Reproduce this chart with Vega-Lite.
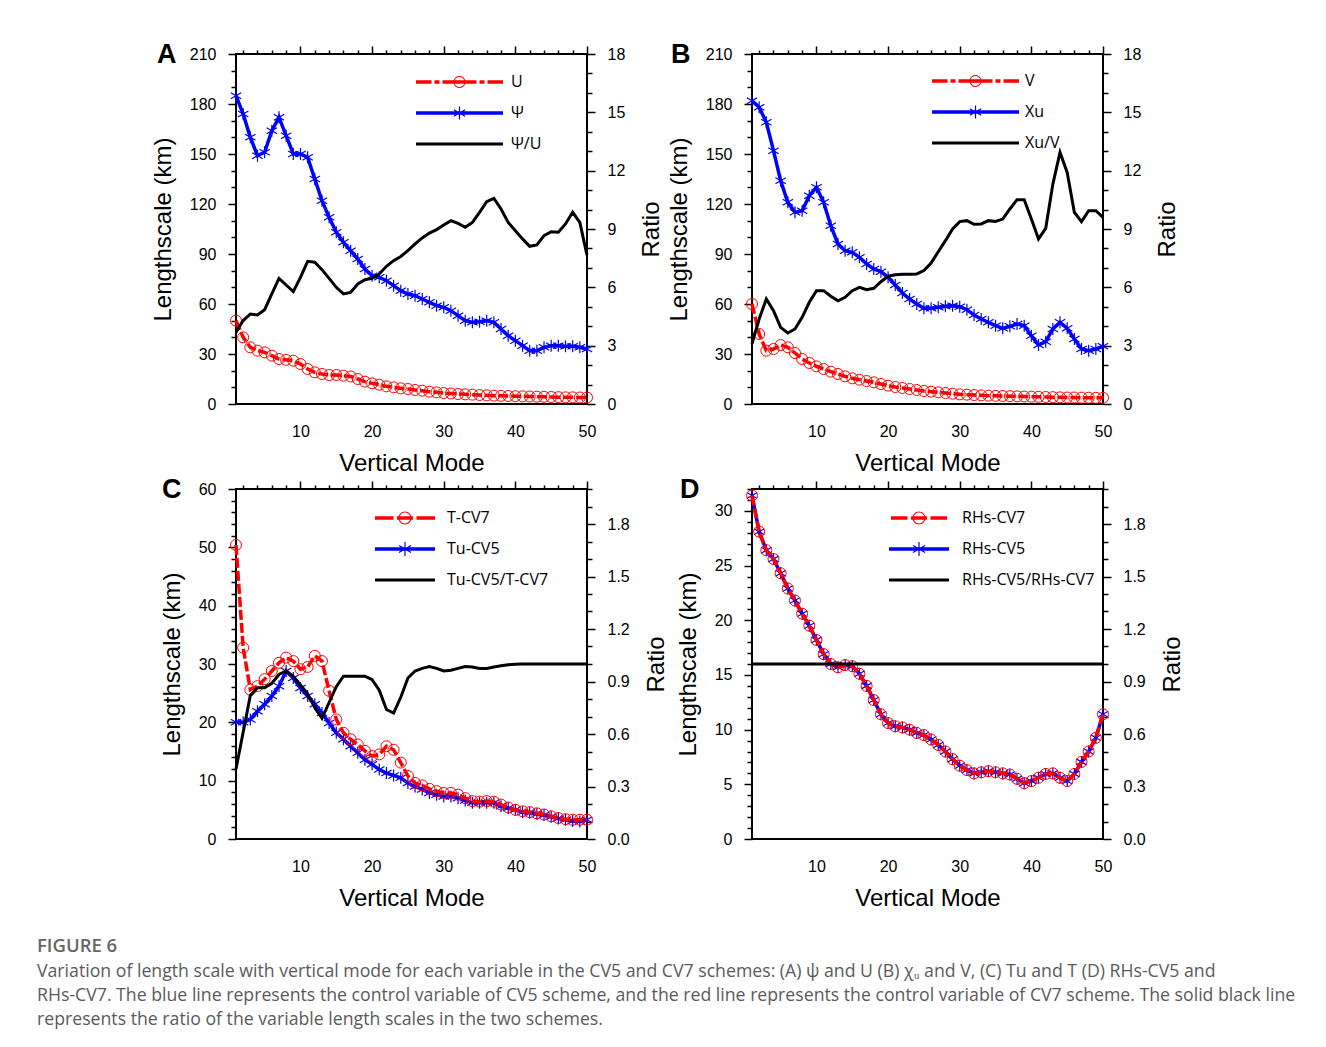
{
  "$schema": "https://vega.github.io/schema/vega-lite/v6.json",
  "background": "white",
  "padding": {"left": 37, "top": 40, "right": 5, "bottom": 5},
  "datasets": {
    "A": [
      {"m":1,"a":50,"b":185,"r":3.69},{"m":2,"a":40,"b":174,"r":4.29},{"m":3,"a":34,"b":160,"r":4.63},{"m":4,"a":32,"b":149,"r":4.58},{"m":5,"a":31,"b":151,"r":4.85},
      {"m":6,"a":29,"b":164,"r":5.66},{"m":7,"a":27,"b":172,"r":6.46},{"m":8,"a":26.5,"b":161,"r":6.12},{"m":9,"a":26,"b":150,"r":5.78},{"m":10,"a":24,"b":150,"r":6.51},
      {"m":11,"a":21,"b":148,"r":7.34},{"m":12,"a":19,"b":135,"r":7.29},{"m":13,"a":18,"b":122,"r":6.91},{"m":14,"a":17.4,"b":112,"r":6.46},{"m":15,"a":17.4,"b":103,"r":6.0},
      {"m":16,"a":17,"b":97,"r":5.66},{"m":17,"a":16.5,"b":92,"r":5.74},{"m":18,"a":15,"b":87,"r":6.17},{"m":19,"a":13.4,"b":81,"r":6.39},{"m":20,"a":12.4,"b":77,"r":6.46},
      {"m":21,"a":11.6,"b":76,"r":6.69},{"m":22,"a":10.6,"b":74,"r":7.08},{"m":23,"a":10,"b":71,"r":7.37},{"m":24,"a":9.4,"b":68,"r":7.59},{"m":25,"a":9,"b":66,"r":7.89},
      {"m":26,"a":8.4,"b":65,"r":8.23},{"m":27,"a":8,"b":63,"r":8.54},{"m":28,"a":7.4,"b":61,"r":8.79},{"m":29,"a":7,"b":59,"r":8.97},{"m":30,"a":6.6,"b":58,"r":9.21},
      {"m":31,"a":6.3,"b":56,"r":9.43},{"m":32,"a":6,"b":53,"r":9.29},{"m":33,"a":5.8,"b":50,"r":9.09},{"m":34,"a":5.6,"b":49,"r":9.34},{"m":35,"a":5.4,"b":49.4,"r":9.86},
      {"m":36,"a":5.2,"b":50,"r":10.41},{"m":37,"a":5,"b":49,"r":10.58},{"m":38,"a":4.9,"b":45,"r":10.03},{"m":39,"a":4.8,"b":41,"r":9.34},{"m":40,"a":4.7,"b":38,"r":8.91},
      {"m":41,"a":4.6,"b":35,"r":8.49},{"m":42,"a":4.5,"b":32,"r":8.11},{"m":43,"a":4.4,"b":32,"r":8.18},{"m":44,"a":4.3,"b":34,"r":8.66},{"m":45,"a":4.2,"b":35,"r":8.86},
      {"m":46,"a":4.1,"b":35,"r":8.83},{"m":47,"a":4.0,"b":34.6,"r":9.26},{"m":48,"a":4.0,"b":34.6,"r":9.86},{"m":49,"a":3.9,"b":34,"r":9.34},{"m":50,"a":3.9,"b":33,"r":7.66}
    ],
    "B": [
      {"m":1,"a":60,"b":182,"r":3.09},{"m":2,"a":42,"b":178,"r":4.37},{"m":3,"a":32,"b":169,"r":5.4},{"m":4,"a":33,"b":152,"r":4.8},{"m":5,"a":35.4,"b":134,"r":3.94},
      {"m":6,"a":34,"b":121,"r":3.65},{"m":7,"a":30.6,"b":115,"r":3.86},{"m":8,"a":27,"b":116,"r":4.46},{"m":9,"a":24.6,"b":125,"r":5.23},{"m":10,"a":22.6,"b":130,"r":5.83},
      {"m":11,"a":21,"b":121,"r":5.83},{"m":12,"a":19.4,"b":107,"r":5.54},{"m":13,"a":18,"b":96,"r":5.31},{"m":14,"a":16.6,"b":92,"r":5.49},{"m":15,"a":15.4,"b":91,"r":5.83},
      {"m":16,"a":14.6,"b":88,"r":6.0},{"m":17,"a":13.8,"b":84,"r":5.88},{"m":18,"a":13,"b":81,"r":5.95},{"m":19,"a":12,"b":79.4,"r":6.29},{"m":20,"a":11,"b":76,"r":6.57},
      {"m":21,"a":10.2,"b":71.4,"r":6.65},{"m":22,"a":9.6,"b":66.6,"r":6.67},{"m":23,"a":9,"b":63,"r":6.67},{"m":24,"a":8.4,"b":60,"r":6.69},{"m":25,"a":7.8,"b":57.4,"r":6.86},
      {"m":26,"a":7.4,"b":57.4,"r":7.25},{"m":27,"a":7,"b":58,"r":7.83},{"m":28,"a":6.6,"b":58.6,"r":8.4},{"m":29,"a":6.2,"b":59,"r":9.0},{"m":30,"a":5.8,"b":58.4,"r":9.38},
      {"m":31,"a":5.6,"b":56.6,"r":9.43},{"m":32,"a":5.4,"b":53.4,"r":9.24},{"m":33,"a":5.2,"b":51,"r":9.26},{"m":34,"a":5.0,"b":49,"r":9.43},{"m":35,"a":4.9,"b":47,"r":9.39},
      {"m":36,"a":4.8,"b":45.4,"r":9.51},{"m":37,"a":4.7,"b":46.6,"r":10.03},{"m":38,"a":4.6,"b":48,"r":10.51},{"m":39,"a":4.5,"b":47,"r":10.51},{"m":40,"a":4.4,"b":41,"r":9.51},
      {"m":41,"a":4.3,"b":35.4,"r":8.49},{"m":42,"a":4.2,"b":37.4,"r":9.03},{"m":43,"a":4.1,"b":45,"r":11.31},{"m":44,"a":4.0,"b":49,"r":12.94},{"m":45,"a":3.9,"b":45.4,"r":11.91},
      {"m":46,"a":3.9,"b":39,"r":9.86},{"m":47,"a":3.8,"b":33,"r":9.38},{"m":48,"a":3.8,"b":32,"r":9.94},{"m":49,"a":3.7,"b":33,"r":9.94},{"m":50,"a":3.7,"b":34.6,"r":9.6}
    ],
    "C": [
      {"m":1,"a":50.4,"b":20.0,"r":0.40},{"m":2,"a":32.8,"b":20.0,"r":0.61},{"m":3,"a":25.6,"b":20.5,"r":0.82},{"m":4,"a":26.2,"b":21.9,"r":0.865},{"m":5,"a":27.4,"b":23.1,"r":0.865},
      {"m":6,"a":28.8,"b":24.5,"r":0.89},{"m":7,"a":30.2,"b":26.2,"r":0.94},{"m":8,"a":31.1,"b":28.8,"r":0.96},{"m":9,"a":30.5,"b":27.6,"r":0.93},{"m":10,"a":29.1,"b":25.9,"r":0.88},
      {"m":11,"a":29.5,"b":24.5,"r":0.83},{"m":12,"a":31.4,"b":23.1,"r":0.75},{"m":13,"a":30.5,"b":21.6,"r":0.69},{"m":14,"a":25.4,"b":19.9,"r":0.78},{"m":15,"a":20.5,"b":18.2,"r":0.87},
      {"m":16,"a":18.2,"b":17.1,"r":0.93},{"m":17,"a":17.1,"b":15.9,"r":0.93},{"m":18,"a":16.2,"b":14.8,"r":0.93},{"m":19,"a":15.1,"b":13.6,"r":0.93},{"m":20,"a":14.2,"b":12.8,"r":0.91},
      {"m":21,"a":14.5,"b":11.9,"r":0.85},{"m":22,"a":15.9,"b":11.3,"r":0.74},{"m":23,"a":15.3,"b":10.9,"r":0.72},{"m":24,"a":13.1,"b":10.5,"r":0.81},{"m":25,"a":10.8,"b":9.6,"r":0.92},
      {"m":26,"a":9.6,"b":9.0,"r":0.96},{"m":27,"a":9.2,"b":8.5,"r":0.975},{"m":28,"a":8.6,"b":7.9,"r":0.985},{"m":29,"a":8.2,"b":7.6,"r":0.975},{"m":30,"a":7.9,"b":7.3,"r":0.96},
      {"m":31,"a":7.9,"b":7.3,"r":0.964},{"m":32,"a":7.6,"b":7.0,"r":0.975},{"m":33,"a":7.0,"b":6.6,"r":0.985},{"m":34,"a":6.5,"b":6.2,"r":0.983},{"m":35,"a":6.4,"b":6.2,"r":0.975},
      {"m":36,"a":6.5,"b":6.2,"r":0.975},{"m":37,"a":6.4,"b":6.2,"r":0.983},{"m":38,"a":5.9,"b":5.6,"r":0.99},{"m":39,"a":5.4,"b":5.3,"r":0.996},{"m":40,"a":5.0,"b":5.0,"r":0.998},
      {"m":41,"a":4.75,"b":4.6,"r":1.0},{"m":42,"a":4.6,"b":4.5,"r":1.0},{"m":43,"a":4.4,"b":4.3,"r":1.0},{"m":44,"a":4.2,"b":4.1,"r":1.0},{"m":45,"a":3.9,"b":3.8,"r":1.0},
      {"m":46,"a":3.6,"b":3.5,"r":1.0},{"m":47,"a":3.4,"b":3.3,"r":1.0},{"m":48,"a":3.3,"b":3.1,"r":1.0},{"m":49,"a":3.3,"b":3.0,"r":1.0},{"m":50,"a":3.3,"b":3.3,"r":1.0}
    ],
    "D": [
      {"m":1,"a":31.4,"b":31.4,"r":1},{"m":2,"a":28.1,"b":28.1,"r":1},{"m":3,"a":26.4,"b":26.4,"r":1},{"m":4,"a":25.6,"b":25.6,"r":1},{"m":5,"a":24.3,"b":24.3,"r":1},
      {"m":6,"a":22.9,"b":22.9,"r":1},{"m":7,"a":21.8,"b":21.8,"r":1},{"m":8,"a":20.6,"b":20.6,"r":1},{"m":9,"a":19.5,"b":19.5,"r":1},{"m":10,"a":18.2,"b":18.2,"r":1},
      {"m":11,"a":16.9,"b":16.9,"r":1},{"m":12,"a":16.0,"b":16.0,"r":1},{"m":13,"a":15.7,"b":15.7,"r":1},{"m":14,"a":15.9,"b":15.9,"r":1},{"m":15,"a":15.8,"b":15.8,"r":1},
      {"m":16,"a":15.1,"b":15.1,"r":1},{"m":17,"a":14.0,"b":14.0,"r":1},{"m":18,"a":12.7,"b":12.7,"r":1},{"m":19,"a":11.4,"b":11.4,"r":1},{"m":20,"a":10.6,"b":10.6,"r":1},
      {"m":21,"a":10.3,"b":10.3,"r":1},{"m":22,"a":10.2,"b":10.2,"r":1},{"m":23,"a":10.0,"b":10.0,"r":1},{"m":24,"a":9.7,"b":9.7,"r":1},{"m":25,"a":9.5,"b":9.5,"r":1},
      {"m":26,"a":9.1,"b":9.1,"r":1},{"m":27,"a":8.6,"b":8.6,"r":1},{"m":28,"a":8.0,"b":8.0,"r":1},{"m":29,"a":7.3,"b":7.3,"r":1},{"m":30,"a":6.7,"b":6.7,"r":1},
      {"m":31,"a":6.3,"b":6.3,"r":1},{"m":32,"a":6.0,"b":6.0,"r":1},{"m":33,"a":6.1,"b":6.1,"r":1},{"m":34,"a":6.2,"b":6.2,"r":1},{"m":35,"a":6.1,"b":6.1,"r":1},
      {"m":36,"a":6.0,"b":6.0,"r":1},{"m":37,"a":5.9,"b":5.9,"r":1},{"m":38,"a":5.5,"b":5.5,"r":1},{"m":39,"a":5.1,"b":5.1,"r":1},{"m":40,"a":5.3,"b":5.3,"r":1},
      {"m":41,"a":5.6,"b":5.6,"r":1},{"m":42,"a":5.95,"b":5.95,"r":1},{"m":43,"a":6.0,"b":6.0,"r":1},{"m":44,"a":5.6,"b":5.6,"r":1},{"m":45,"a":5.3,"b":5.3,"r":1},
      {"m":46,"a":5.95,"b":5.95,"r":1},{"m":47,"a":7.05,"b":7.05,"r":1},{"m":48,"a":8.0,"b":8.0,"r":1},{"m":49,"a":9.25,"b":9.25,"r":1},{"m":50,"a":11.4,"b":11.4,"r":1}
    ]
  },
  "columns": 2,
  "spacing": {"row": 85, "column": 165},
  "bounds": "flush",
  "resolve": {"scale": {"color": "independent", "shape": "independent"}, "legend": {"color": "independent", "shape": "independent"}},
  "title": {
    "text": "FIGURE 6",
    "subtitle": [
      "Variation of length scale with vertical mode for each variable in the CV5 and CV7 schemes: (A) ψ and U (B) χᵤ and V, (C) Tu and T (D) RHs-CV5 and",
      "RHs-CV7. The blue line represents the control variable of CV5 scheme, and the red line represents the control variable of CV7 scheme. The solid black line",
      "represents the ratio of the variable length scales in the two schemes."
    ],
    "orient": "bottom", "anchor": "start", "frame": "group", "dx": -199, "offset": 26,
    "font": "Open Sans", "fontSize": 18.5, "fontWeight": 600, "color": "#666666",
    "subtitleFont": "Open Sans", "subtitleFontSize": 17.7, "subtitleColor": "#5a5a5a", "subtitleLineHeight": 24, "subtitlePadding": 7
  },
  "concat": [
    {
      "width": 351, "height": 350,
      "title": {"text": "A", "anchor": "start", "frame": "group", "dx": -79, "dy": 45, "offset": 0, "baseline": "alphabetic", "font": "Liberation Sans", "fontSize": 27, "fontWeight": "bold", "color": "black"},
      "data": {"name": "A"},
      "resolve": {"scale": {"y": "independent"}, "axis": {"x": "independent", "y": "independent"}},
      "layer": [
        {"mark": {"type": "line", "color": "#0000ff", "strokeWidth": 3.5},
         "encoding": {
           "x": {"field": "m", "type": "quantitative", "scale": {"domain": [1, 50], "nice": false, "zero": false}, "axis": {"orient": "top", "values": [2,4,6,8,12,14,16,18,22,24,26,28,32,34,36,38,42,44,46,48], "labels": false, "tickSize": 4, "title": null}},
           "y": {"field": "b", "type": "quantitative", "scale": {"domain": [0, 210], "nice": false, "zero": false}, "axis": {"orient": "right", "values": [11.6667,23.3333,46.6667,58.3333,81.6667,93.3333,116.6667,128.3333,151.6667,163.3333,186.6667,198.3333], "labels": false, "tickSize": 5, "title": null}}}},
        {"mark": {"type": "point", "shape": "M0,-1L0,1M-0.866,-0.5L0.866,0.5M-0.866,0.5L0.866,-0.5", "filled": false, "color": "#0000ff", "size": 144, "strokeWidth": 1.2, "opacity": 1},
         "encoding": {
           "x": {"field": "m", "type": "quantitative", "scale": {"domain": [1, 50], "nice": false, "zero": false}, "axis": {"orient": "top", "values": [10,20,30,40,50], "labels": false, "tickSize": 8, "title": null}},
           "y": {"field": "b", "type": "quantitative", "scale": {"domain": [0, 210], "nice": false, "zero": false}, "axis": {"orient": "left", "values": [10,20,40,50,70,80,100,110,130,140,160,170,190,200], "labels": false, "tickSize": 5, "title": null}}}},
        {"mark": {"type": "line", "color": "#ff0000", "strokeWidth": 3.5, "strokeDash": [10, 3]},
         "encoding": {
           "x": {"field": "m", "type": "quantitative", "scale": {"domain": [1, 50], "nice": false, "zero": false}, "axis": {"orient": "bottom", "values": [10,20,30,40,50], "ticks": false, "labelPadding": 19, "title": "Vertical Mode", "titlePadding": 12}},
           "y": {"field": "a", "type": "quantitative", "scale": {"domain": [0, 210], "nice": false, "zero": false}, "axis": {"orient": "left", "values": [0,30,60,90,120,150,180,210], "tickSize": 8, "labelPadding": 12, "title": "Lengthscale (km)", "titlePadding": 14}}}},
        {"mark": {"type": "point", "shape": "circle", "filled": false, "color": "#ff0000", "size": 121, "strokeWidth": 1, "opacity": 1},
         "encoding": {
           "x": {"field": "m", "type": "quantitative", "scale": {"domain": [1, 50], "nice": false, "zero": false}, "axis": null},
           "y": {"field": "a", "type": "quantitative", "scale": {"domain": [0, 210], "nice": false, "zero": false}, "axis": null}}},
        {"mark": {"type": "line", "color": "#000000", "strokeWidth": 3},
         "encoding": {
           "x": {"field": "m", "type": "quantitative", "scale": {"domain": [1, 50], "nice": false, "zero": false}, "axis": null},
           "y": {"field": "r", "type": "quantitative", "scale": {"domain": [0, 18], "nice": false, "zero": false}, "axis": {"orient": "right", "values": [0,3,6,9,12,15,18], "tickSize": 8, "labelPadding": 12, "title": "Ratio", "titleAngle": 270, "titlePadding": 39}}}},
        {"data": {"values": []},
         "mark": {"type": "point", "filled": true, "opacity": 1, "strokeWidth": 0},
         "encoding": {
           "color": {"field": "s", "type": "nominal", "scale": {"domain": ["U", "Ψ", "Ψ/U"], "range": ["#ff0000", "#0000ff", "#000000"]},
             "legend": {"orient": "none", "legendX": 172, "legendY": 20, "title": null, "symbolSize": 4, "symbolOffset": 43.5, "labelOffset": 43.5, "rowPadding": 15, "padding": 0, "symbolStrokeWidth": 0, "symbolOpacity": 1, "labelFont": "Open Sans", "labelFontSize": 16, "labelColor": "black", "labelLimit": 300}},
           "shape": {"field": "s", "type": "nominal", "scale": {"domain": ["U", "Ψ", "Ψ/U"], "range": [
             "M-43.5,-1.75H-28V1.75H-43.5Z M-25,-1.75H-20V1.75H-25Z M-17,-1.75H17V1.75H-17Z M20,-1.75H25V1.75H20Z M28,-1.75H43.5V1.75H28Z M6,0A6,6,0,1,1,-6,0A6,6,0,1,1,6,0Z M5,0A5,5,0,1,0,-5,0A5,5,0,1,0,5,0Z",
             "M-43.5,-1.75H43.5V1.75H-43.5Z M-0.6,-6.5H0.6V6.5H-0.6Z M-5.33,3.77L-5.93,2.73L5.33,-3.77L5.93,-2.73Z M-5.93,-2.73L-5.33,-3.77L5.93,2.73L5.33,3.77Z",
             "M-43.5,-1.6H43.5V1.6H-43.5Z"]},
             "legend": {"orient": "none", "legendX": 172, "legendY": 20, "title": null, "symbolSize": 4, "symbolOffset": 43.5, "labelOffset": 43.5, "rowPadding": 15, "padding": 0, "symbolStrokeWidth": 0, "symbolOpacity": 1, "labelFont": "Open Sans", "labelFontSize": 16, "labelColor": "black", "labelLimit": 300}}}}
      ]
    },
    {
      "width": 351, "height": 350,
      "title": {"text": "B", "anchor": "start", "frame": "group", "dx": -81, "dy": 45, "offset": 0, "baseline": "alphabetic", "font": "Liberation Sans", "fontSize": 27, "fontWeight": "bold", "color": "black"},
      "data": {"name": "B"},
      "resolve": {"scale": {"y": "independent"}, "axis": {"x": "independent", "y": "independent"}},
      "layer": [
        {"mark": {"type": "line", "color": "#0000ff", "strokeWidth": 3.5},
         "encoding": {
           "x": {"field": "m", "type": "quantitative", "scale": {"domain": [1, 50], "nice": false, "zero": false}, "axis": {"orient": "top", "values": [2,4,6,8,12,14,16,18,22,24,26,28,32,34,36,38,42,44,46,48], "labels": false, "tickSize": 4, "title": null}},
           "y": {"field": "b", "type": "quantitative", "scale": {"domain": [0, 210], "nice": false, "zero": false}, "axis": {"orient": "right", "values": [11.6667,23.3333,46.6667,58.3333,81.6667,93.3333,116.6667,128.3333,151.6667,163.3333,186.6667,198.3333], "labels": false, "tickSize": 5, "title": null}}}},
        {"mark": {"type": "point", "shape": "M0,-1L0,1M-0.866,-0.5L0.866,0.5M-0.866,0.5L0.866,-0.5", "filled": false, "color": "#0000ff", "size": 144, "strokeWidth": 1.2, "opacity": 1},
         "encoding": {
           "x": {"field": "m", "type": "quantitative", "scale": {"domain": [1, 50], "nice": false, "zero": false}, "axis": {"orient": "top", "values": [10,20,30,40,50], "labels": false, "tickSize": 8, "title": null}},
           "y": {"field": "b", "type": "quantitative", "scale": {"domain": [0, 210], "nice": false, "zero": false}, "axis": {"orient": "left", "values": [10,20,40,50,70,80,100,110,130,140,160,170,190,200], "labels": false, "tickSize": 5, "title": null}}}},
        {"mark": {"type": "line", "color": "#ff0000", "strokeWidth": 3.5, "strokeDash": [10, 3]},
         "encoding": {
           "x": {"field": "m", "type": "quantitative", "scale": {"domain": [1, 50], "nice": false, "zero": false}, "axis": {"orient": "bottom", "values": [10,20,30,40,50], "ticks": false, "labelPadding": 19, "title": "Vertical Mode", "titlePadding": 12}},
           "y": {"field": "a", "type": "quantitative", "scale": {"domain": [0, 210], "nice": false, "zero": false}, "axis": {"orient": "left", "values": [0,30,60,90,120,150,180,210], "tickSize": 8, "labelPadding": 12, "title": "Lengthscale (km)", "titlePadding": 14}}}},
        {"mark": {"type": "point", "shape": "circle", "filled": false, "color": "#ff0000", "size": 121, "strokeWidth": 1, "opacity": 1},
         "encoding": {
           "x": {"field": "m", "type": "quantitative", "scale": {"domain": [1, 50], "nice": false, "zero": false}, "axis": null},
           "y": {"field": "a", "type": "quantitative", "scale": {"domain": [0, 210], "nice": false, "zero": false}, "axis": null}}},
        {"mark": {"type": "line", "color": "#000000", "strokeWidth": 3},
         "encoding": {
           "x": {"field": "m", "type": "quantitative", "scale": {"domain": [1, 50], "nice": false, "zero": false}, "axis": null},
           "y": {"field": "r", "type": "quantitative", "scale": {"domain": [0, 18], "nice": false, "zero": false}, "axis": {"orient": "right", "values": [0,3,6,9,12,15,18], "tickSize": 8, "labelPadding": 12, "title": "Ratio", "titleAngle": 270, "titlePadding": 39}}}},
        {"data": {"values": []},
         "mark": {"type": "point", "filled": true, "opacity": 1, "strokeWidth": 0},
         "encoding": {
           "color": {"field": "s", "type": "nominal", "scale": {"domain": ["V", "Xu", "Xu/V"], "range": ["#ff0000", "#0000ff", "#000000"]},
             "legend": {"orient": "none", "legendX": 172, "legendY": 19, "title": null, "symbolSize": 4, "symbolOffset": 43.5, "labelOffset": 41.5, "rowPadding": 15, "padding": 0, "symbolStrokeWidth": 0, "symbolOpacity": 1, "labelFont": "Open Sans", "labelFontSize": 16, "labelColor": "black", "labelLimit": 300}},
           "shape": {"field": "s", "type": "nominal", "scale": {"domain": ["V", "Xu", "Xu/V"], "range": [
             "M-43.5,-1.75H-28V1.75H-43.5Z M-25,-1.75H-20V1.75H-25Z M-17,-1.75H17V1.75H-17Z M20,-1.75H25V1.75H20Z M28,-1.75H43.5V1.75H28Z M6,0A6,6,0,1,1,-6,0A6,6,0,1,1,6,0Z M5,0A5,5,0,1,0,-5,0A5,5,0,1,0,5,0Z",
             "M-43.5,-1.75H43.5V1.75H-43.5Z M-0.6,-6.5H0.6V6.5H-0.6Z M-5.33,3.77L-5.93,2.73L5.33,-3.77L5.93,-2.73Z M-5.93,-2.73L-5.33,-3.77L5.93,2.73L5.33,3.77Z",
             "M-43.5,-1.6H43.5V1.6H-43.5Z"]},
             "legend": {"orient": "none", "legendX": 172, "legendY": 19, "title": null, "symbolSize": 4, "symbolOffset": 43.5, "labelOffset": 41.5, "rowPadding": 15, "padding": 0, "symbolStrokeWidth": 0, "symbolOpacity": 1, "labelFont": "Open Sans", "labelFontSize": 16, "labelColor": "black", "labelLimit": 300}}}}
      ]
    },
    {
      "width": 351, "height": 350,
      "title": {"text": "C", "anchor": "start", "frame": "group", "dx": -74, "dy": 45, "offset": 0, "baseline": "alphabetic", "font": "Liberation Sans", "fontSize": 27, "fontWeight": "bold", "color": "black"},
      "data": {"name": "C"},
      "resolve": {"scale": {"y": "independent"}, "axis": {"x": "independent", "y": "independent"}},
      "layer": [
        {"mark": {"type": "line", "color": "#0000ff", "strokeWidth": 3.5},
         "encoding": {
           "x": {"field": "m", "type": "quantitative", "scale": {"domain": [1, 50], "nice": false, "zero": false}, "axis": {"orient": "top", "values": [2,4,6,8,12,14,16,18,22,24,26,28,32,34,36,38,42,44,46,48], "labels": false, "tickSize": 4, "title": null}},
           "y": {"field": "b", "type": "quantitative", "scale": {"domain": [0, 60], "nice": false, "zero": false}, "axis": {"orient": "right", "values": [3,6,12,15,21,24,30,33,39,42,48,51,57,60], "labels": false, "tickSize": 5, "title": null}}}},
        {"mark": {"type": "point", "shape": "M0,-1L0,1M-0.866,-0.5L0.866,0.5M-0.866,0.5L0.866,-0.5", "filled": false, "color": "#0000ff", "size": 144, "strokeWidth": 1.2, "opacity": 1},
         "encoding": {
           "x": {"field": "m", "type": "quantitative", "scale": {"domain": [1, 50], "nice": false, "zero": false}, "axis": {"orient": "top", "values": [10,20,30,40,50], "labels": false, "tickSize": 8, "title": null}},
           "y": {"field": "b", "type": "quantitative", "scale": {"domain": [0, 60], "nice": false, "zero": false}, "axis": {"orient": "left", "values": [2,4,6,8,12,14,16,18,22,24,26,28,32,34,36,38,42,44,46,48,52,54,56,58], "labels": false, "tickSize": 5, "title": null}}}},
        {"mark": {"type": "line", "color": "#ff0000", "strokeWidth": 3.5, "strokeDash": [10, 3]},
         "encoding": {
           "x": {"field": "m", "type": "quantitative", "scale": {"domain": [1, 50], "nice": false, "zero": false}, "axis": {"orient": "bottom", "values": [10,20,30,40,50], "ticks": false, "labelPadding": 19, "title": "Vertical Mode", "titlePadding": 12}},
           "y": {"field": "a", "type": "quantitative", "scale": {"domain": [0, 60], "nice": false, "zero": false}, "axis": {"orient": "left", "values": [0,10,20,30,40,50,60], "tickSize": 8, "labelPadding": 12, "title": "Lengthscale (km)", "titlePadding": 14}}}},
        {"mark": {"type": "point", "shape": "circle", "filled": false, "color": "#ff0000", "size": 121, "strokeWidth": 1, "opacity": 1},
         "encoding": {
           "x": {"field": "m", "type": "quantitative", "scale": {"domain": [1, 50], "nice": false, "zero": false}, "axis": null},
           "y": {"field": "a", "type": "quantitative", "scale": {"domain": [0, 60], "nice": false, "zero": false}, "axis": null}}},
        {"mark": {"type": "line", "color": "#000000", "strokeWidth": 3},
         "encoding": {
           "x": {"field": "m", "type": "quantitative", "scale": {"domain": [1, 50], "nice": false, "zero": false}, "axis": null},
           "y": {"field": "r", "type": "quantitative", "scale": {"domain": [0, 2], "nice": false, "zero": false}, "axis": {"orient": "right", "values": [0,0.3,0.6,0.9,1.2,1.5,1.8], "format": ".1f", "tickSize": 8, "labelPadding": 12, "title": "Ratio", "titleAngle": 270, "titlePadding": 39}}}},
        {"data": {"values": []},
         "mark": {"type": "point", "filled": true, "opacity": 1, "strokeWidth": 0},
         "encoding": {
           "color": {"field": "s", "type": "nominal", "scale": {"domain": ["T-CV7", "Tu-CV5", "Tu-CV5/T-CV7"], "range": ["#ff0000", "#0000ff", "#000000"]},
             "legend": {"orient": "none", "legendX": 131, "legendY": 21, "title": null, "symbolSize": 4, "symbolOffset": 30, "labelOffset": 34, "rowPadding": 15, "padding": 0, "symbolStrokeWidth": 0, "symbolOpacity": 1, "labelFont": "Open Sans", "labelFontSize": 16, "labelColor": "black", "labelLimit": 300}},
           "shape": {"field": "s", "type": "nominal", "scale": {"domain": ["T-CV7", "Tu-CV5", "Tu-CV5/T-CV7"], "range": [
             "M-30,-1.75H-11.5V1.75H-30Z M-8,-1.75H8V1.75H-8Z M11.5,-1.75H30V1.75H11.5Z M6.5,0A6.5,6.5,0,1,1,-6.5,0A6.5,6.5,0,1,1,6.5,0Z M5.4,0A5.4,5.4,0,1,0,-5.4,0A5.4,5.4,0,1,0,5.4,0Z",
             "M-30,-1.75H30V1.75H-30Z M-0.6,-7H0.6V7H-0.6Z M-5.76,4.02L-6.36,2.98L5.76,-4.02L6.36,-2.98Z M-6.36,-2.98L-5.76,-4.02L6.36,2.98L5.76,4.02Z",
             "M-30,-1.6H30V1.6H-30Z"]},
             "legend": {"orient": "none", "legendX": 131, "legendY": 21, "title": null, "symbolSize": 4, "symbolOffset": 30, "labelOffset": 34, "rowPadding": 15, "padding": 0, "symbolStrokeWidth": 0, "symbolOpacity": 1, "labelFont": "Open Sans", "labelFontSize": 16, "labelColor": "black", "labelLimit": 300}}}}
      ]
    },
    {
      "width": 351, "height": 350,
      "title": {"text": "D", "anchor": "start", "frame": "group", "dx": -72, "dy": 45, "offset": 0, "baseline": "alphabetic", "font": "Liberation Sans", "fontSize": 27, "fontWeight": "bold", "color": "black"},
      "data": {"name": "D"},
      "resolve": {"scale": {"y": "independent"}, "axis": {"x": "independent", "y": "independent"}},
      "layer": [
        {"mark": {"type": "line", "color": "#0000ff", "strokeWidth": 3.5},
         "encoding": {
           "x": {"field": "m", "type": "quantitative", "scale": {"domain": [1, 50], "nice": false, "zero": false}, "axis": {"orient": "top", "values": [2,4,6,8,12,14,16,18,22,24,26,28,32,34,36,38,42,44,46,48], "labels": false, "tickSize": 4, "title": null}},
           "y": {"field": "b", "type": "quantitative", "scale": {"domain": [0, 32], "nice": false, "zero": false}, "axis": {"orient": "right", "values": [1.6,3.2,6.4,8,11.2,12.8,16,17.6,20.8,22.4,25.6,27.2,30.4,32], "labels": false, "tickSize": 5, "title": null}}}},
        {"mark": {"type": "point", "shape": "M0,-1L0,1M-0.866,-0.5L0.866,0.5M-0.866,0.5L0.866,-0.5", "filled": false, "color": "#0000ff", "size": 144, "strokeWidth": 1.2, "opacity": 1},
         "encoding": {
           "x": {"field": "m", "type": "quantitative", "scale": {"domain": [1, 50], "nice": false, "zero": false}, "axis": {"orient": "top", "values": [10,20,30,40,50], "labels": false, "tickSize": 8, "title": null}},
           "y": {"field": "b", "type": "quantitative", "scale": {"domain": [0, 32], "nice": false, "zero": false}, "axis": {"orient": "left", "values": [1,2,3,4,6,7,8,9,11,12,13,14,16,17,18,19,21,22,23,24,26,27,28,29,31,32], "labels": false, "tickSize": 5, "title": null}}}},
        {"mark": {"type": "line", "color": "#ff0000", "strokeWidth": 3.5, "strokeDash": [10, 3]},
         "encoding": {
           "x": {"field": "m", "type": "quantitative", "scale": {"domain": [1, 50], "nice": false, "zero": false}, "axis": {"orient": "bottom", "values": [10,20,30,40,50], "ticks": false, "labelPadding": 19, "title": "Vertical Mode", "titlePadding": 12}},
           "y": {"field": "a", "type": "quantitative", "scale": {"domain": [0, 32], "nice": false, "zero": false}, "axis": {"orient": "left", "values": [0,5,10,15,20,25,30], "tickSize": 8, "labelPadding": 12, "title": "Lengthscale (km)", "titlePadding": 14}}}},
        {"mark": {"type": "point", "shape": "circle", "filled": false, "color": "#ff0000", "size": 121, "strokeWidth": 1, "opacity": 1},
         "encoding": {
           "x": {"field": "m", "type": "quantitative", "scale": {"domain": [1, 50], "nice": false, "zero": false}, "axis": null},
           "y": {"field": "a", "type": "quantitative", "scale": {"domain": [0, 32], "nice": false, "zero": false}, "axis": null}}},
        {"mark": {"type": "line", "color": "#000000", "strokeWidth": 3},
         "encoding": {
           "x": {"field": "m", "type": "quantitative", "scale": {"domain": [1, 50], "nice": false, "zero": false}, "axis": null},
           "y": {"field": "r", "type": "quantitative", "scale": {"domain": [0, 2], "nice": false, "zero": false}, "axis": {"orient": "right", "values": [0,0.3,0.6,0.9,1.2,1.5,1.8], "format": ".1f", "tickSize": 8, "labelPadding": 12, "title": "Ratio", "titleAngle": 270, "titlePadding": 39}}}},
        {"data": {"values": []},
         "mark": {"type": "point", "filled": true, "opacity": 1, "strokeWidth": 0},
         "encoding": {
           "color": {"field": "s", "type": "nominal", "scale": {"domain": ["RHs-CV7", "RHs-CV5", "RHs-CV5/RHs-CV7"], "range": ["#ff0000", "#0000ff", "#000000"]},
             "legend": {"orient": "none", "legendX": 129, "legendY": 21, "title": null, "symbolSize": 4, "symbolOffset": 30, "labelOffset": 35, "rowPadding": 15, "padding": 0, "symbolStrokeWidth": 0, "symbolOpacity": 1, "labelFont": "Open Sans", "labelFontSize": 16, "labelColor": "black", "labelLimit": 300}},
           "shape": {"field": "s", "type": "nominal", "scale": {"domain": ["RHs-CV7", "RHs-CV5", "RHs-CV5/RHs-CV7"], "range": [
             "M-28,-1.75H-11.5V1.75H-28Z M-8,-1.75H8V1.75H-8Z M11.5,-1.75H28V1.75H11.5Z M6.5,0A6.5,6.5,0,1,1,-6.5,0A6.5,6.5,0,1,1,6.5,0Z M5.4,0A5.4,5.4,0,1,0,-5.4,0A5.4,5.4,0,1,0,5.4,0Z",
             "M-30,-1.75H30V1.75H-30Z M-0.6,-7H0.6V7H-0.6Z M-5.76,4.02L-6.36,2.98L5.76,-4.02L6.36,-2.98Z M-6.36,-2.98L-5.76,-4.02L6.36,2.98L5.76,4.02Z",
             "M-30,-1.6H30V1.6H-30Z"]},
             "legend": {"orient": "none", "legendX": 129, "legendY": 21, "title": null, "symbolSize": 4, "symbolOffset": 30, "labelOffset": 35, "rowPadding": 15, "padding": 0, "symbolStrokeWidth": 0, "symbolOpacity": 1, "labelFont": "Open Sans", "labelFontSize": 16, "labelColor": "black", "labelLimit": 300}}}}
      ]
    }
  ],
  "config": {
    "view": {"stroke": "#000000", "strokeWidth": 2},
    "axis": {"domain": false, "grid": false, "tickColor": "#000000", "tickWidth": 1.5, "labelFont": "Liberation Sans", "labelFontSize": 16, "labelColor": "#000000", "labelFlush": false, "labelOverlap": false, "titleFont": "Liberation Sans", "titleFontSize": 24, "titleFontWeight": "normal", "titleColor": "#000000"},
    "legend": {"labelFont": "Open Sans"}
  }
}
